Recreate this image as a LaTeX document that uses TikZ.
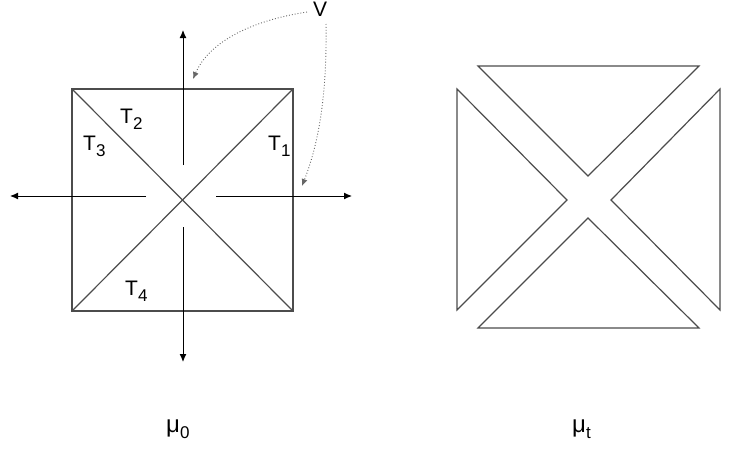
\documentclass[tikz,border=0pt]{standalone}
\usepackage{fontspec}
\setmainfont{Liberation Sans}
\usetikzlibrary{positioning, arrows.meta}

% letter with a lowered index, as in the labels
\newcommand{\idx}[2]{#1\raisebox{-6pt}{\fontsize{17}{17}\selectfont #2}}

\begin{document}
\begin{tikzpicture}[
  x=1pt, y=-1pt,
  every node/.style={font=\fontsize{21}{25}\selectfont, inner sep=0pt, anchor=base west},
  shapeline/.style={draw=black!70, line width=1.2pt},
  axisarrow/.style={black, line width=1pt, -{Latex[length=8pt,width=7pt]}},
  pointer/.style={black!60, line width=0.9pt, dotted, -{Latex[length=7pt,width=6pt]}}
]
\useasboundingbox (0,0) rectangle (730,461);

% left: square cut into four triangles
\coordinate (nw) at (72,89);
\coordinate (ne) at (293,89);
\coordinate (se) at (293,311);
\coordinate (sw) at (72,311);
\draw[shapeline] (nw) rectangle (se);
\draw[shapeline] (nw) -- (se);
\draw[shapeline] (ne) -- (sw);

\node (t2) at (120,123) {\idx{T}{2}};
\node (t3) at (83,150) {\idx{T}{3}};
\node (t1) at (268,150) {\idx{T}{1}};
\node (t4) at (125,295) {\idx{T}{4}};

% axes: (start, tip)
\coordinate (up0) at (183,165);    \coordinate (up1) at (183,30);
\coordinate (dn0) at (183,227);    \coordinate (dn1) at (183,362);
\coordinate (lf0) at (146,196);    \coordinate (lf1) at (10,196);
\coordinate (rt0) at (216,196);    \coordinate (rt1) at (352,196);
\foreach \a in {up,dn,lf,rt} \draw[axisarrow] (\a0) -- (\a1);

% V and its pointers
\node (v) at (313,16) {V};
\coordinate (pa0) at (307,12);  \coordinate (pa1) at (193,79);
\coordinate (pb0) at (326,24);  \coordinate (pb1) at (302,186);
\draw[pointer] (pa0) .. controls (255,20) and (210,40) .. (pa1);
\draw[pointer] (pb0) .. controls (327,90) and (320,140) .. (pb1);

% right: the four triangles pulled apart
\def\tri#1#2#3{\draw[shapeline] (#1) -- (#2) -- (#3) -- cycle;}
\tri{478,66}{699,66}{588,176}
\tri{457,89}{457,310}{567,200}
\tri{720,89}{720,310}{611,200}
\tri{478,328}{699,328}{588,218}

% captions
\node[font=\fontsize{24}{28}\selectfont] (mu0) at (166,432) {\idx{μ}{0}};
\node[font=\fontsize{24}{28}\selectfont] (mut) at (572,432) {\idx{μ}{t}};
\end{tikzpicture}
\end{document}
